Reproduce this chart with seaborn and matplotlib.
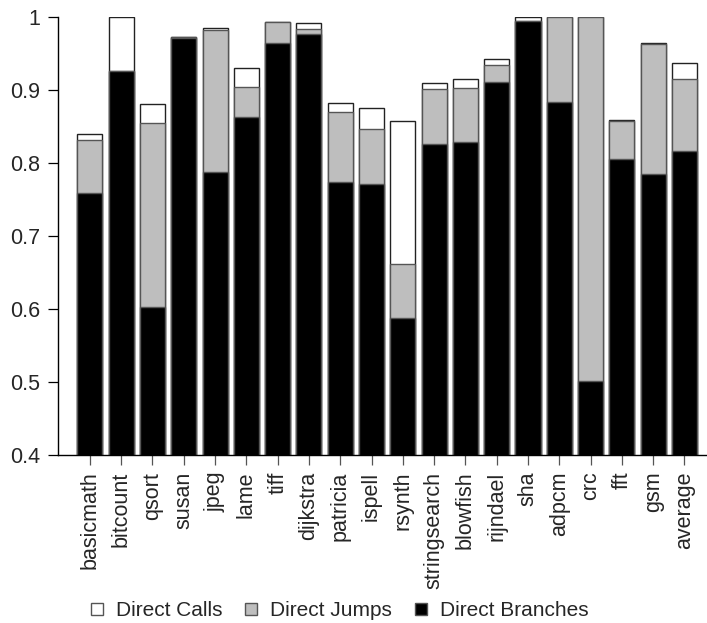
import matplotlib
matplotlib.use("Agg")
import matplotlib.pyplot as plt
from matplotlib.lines import Line2D
import numpy as np
import pandas as pd
import seaborn as sns

benchmarks = ["basicmath", "bitcount", "qsort", "susan", "jpeg", "lame", "tiff",
              "dijkstra", "patricia", "ispell", "rsynth", "stringsearch", "blowfish",
              "rijndael", "sha", "adpcm", "crc", "fft", "gsm", "average"]
direct_branches = [0.759, 0.926, 0.603, 0.971, 0.788, 0.863, 0.965, 0.977, 0.774, 0.771,
                   0.587, 0.826, 0.829, 0.911, 0.994, 0.884, 0.501, 0.806, 0.785, 0.817]
direct_jumps = [0.072, 0.000, 0.252, 0.001, 0.194, 0.041, 0.028, 0.007, 0.096, 0.076,
                0.074, 0.075, 0.074, 0.023, 0.000, 0.116, 0.499, 0.052, 0.178, 0.098]
direct_calls = [0.009, 0.074, 0.026, 0.000, 0.003, 0.026, 0.000, 0.008, 0.012, 0.028,
                0.197, 0.009, 0.012, 0.009, 0.006, 0.000, 0.000, 0.001, 0.002, 0.022]
series_labels = ["Direct Calls", "Direct Jumps", "Direct Branches"]
y_ticks = [0.4, 0.5, 0.6, 0.7, 0.8, 0.9, 1.0]
y_tick_labels = ["0.4", "0.5", "0.6", "0.7", "0.8", "0.9", "1"]

sns.set_theme(style="ticks")
plt.rcParams["font.family"] = ["Liberation Sans", "DejaVu Sans"]

df = pd.DataFrame({
    "bench": benchmarks,
    "b": direct_branches,
    "j": direct_jumps,
    "c": direct_calls,
})
df["bj"] = df["b"] + df["j"]
df["total"] = df["bj"] + df["c"]

fig = plt.figure(figsize=(7.07, 6.23), dpi=100)
ax = fig.add_axes([0.082, 0.2697, 0.918, 0.7030])

edge = "#555555"
layers = [("total", "white", "#222222"), ("bj", "#bebebe", edge), ("b", "black", edge)]
for col, fc, ec in layers:
    sns.barplot(data=df, x="bench", y=col, order=benchmarks, color=fc, saturation=1,
                edgecolor=ec, linewidth=1.0, width=0.8, ax=ax, errorbar=None)

ax.set_ylim(0.4, 1.0)
ax.set_xlim(-1.02, 19.72)
ax.set_yticks(y_ticks)
ax.set_yticklabels(y_tick_labels)
ax.set_xlabel("")
ax.set_ylabel("")
ax.tick_params(axis="x", rotation=90, labelsize=15.5, length=7, width=0.9,
               pad=5, color="#555555")
ax.tick_params(axis="y", labelsize=15.5, length=7, width=0.9, pad=6, color="black")
for lab in ax.get_xticklabels():
    lab.set_va("top")
sns.despine(ax=ax)
ax.spines["left"].set_linewidth(1.0)
ax.spines["bottom"].set_linewidth(1.0)
ax.spines["left"].set_color("black")
ax.spines["bottom"].set_color("black")

handles = [
    Line2D([], [], marker="s", linestyle="", markersize=8, markerfacecolor="white",
           markeredgecolor="#555555", markeredgewidth=1.0),
    Line2D([], [], marker="s", linestyle="", markersize=8, markerfacecolor="#bebebe",
           markeredgecolor="#555555", markeredgewidth=1.0),
    Line2D([], [], marker="s", linestyle="", markersize=8, markerfacecolor="black",
           markeredgecolor="#555555", markeredgewidth=1.0),
]
fig.legend(handles, series_labels, loc="center", bbox_to_anchor=(0.479, 0.02), ncol=3,
           frameon=False, fontsize=15, handlelength=0.8, handletextpad=0.5,
           columnspacing=1.0)

fig.savefig("out.png", dpi=100)
